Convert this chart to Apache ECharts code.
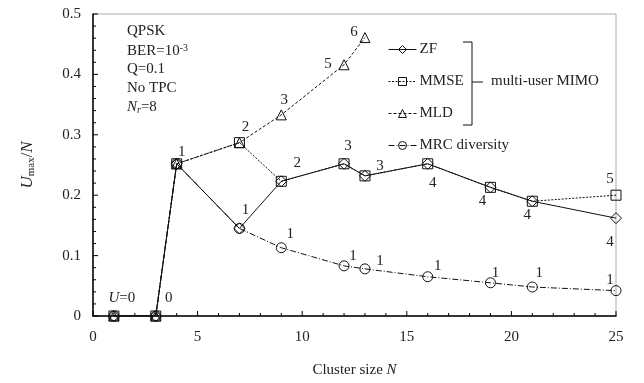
<!DOCTYPE html>
<html>
<head>
<meta charset="utf-8">
<script src="https://cdn.jsdelivr.net/npm/echarts@6/dist/echarts.min.js"></script>
<style>
  html, body { margin: 0; padding: 0; background: #fff; }
  #chart { width: 644px; height: 383px; }
</style>
</head>
<body>
<div id="chart"></div>
<script>
// cluster sizes and U_max/N
const clusterN = [1, 3, 4, 7, 9, 12, 13, 16, 19, 21, 25];
const zfVals   = [0, 0, 0.252, 0.145, 0.223, 0.252, 0.232, 0.252, 0.213, 0.19, 0.162];
const mmseVals = [0, 0, 0.252, 0.287, 0.223, 0.252, 0.232, 0.252, 0.213, 0.19, 0.2];
const mldN     = [1, 3, 4, 7, 9, 12, 13];
const mldVals  = [0, 0, 0.252, 0.287, 0.333, 0.416, 0.461];
const mrcVals  = [0, 0, 0.252, 0.145, 0.113, 0.083, 0.078, 0.065, 0.055, 0.048, 0.042];

// number of users U at each point
const zfLabels   = ['U=0', '0', '1', '1', '2', '3', '3', '4', '4', '4', '4'];
const mmseLabels = ['', '', '', '', '', '', '', '', '', '', '5'];
const mldLabels  = ['', '', '', '2', '3', '5', '6'];
const mrcLabels  = ['', '', '', '', '1', '1', '1', '1', '1', '1', '1'];

const xTicks = [0, 5, 10, 15, 20, 25];
const yTicks = [0, 0.1, 0.2, 0.3, 0.4, 0.5];
// tick mark positions (major + minor)
const xTickMarks = [0, 1, 2, 3, 4, 5, 6, 7, 8, 9, 10, 11, 12, 13, 14, 15, 16, 17, 18, 19, 20, 21, 22, 23, 24, 25];
const yTickMarks = [0, 0.02, 0.04, 0.06, 0.08, 0.1, 0.12, 0.14, 0.16, 0.18, 0.2, 0.22, 0.24, 0.26, 0.28,
                    0.3, 0.32, 0.34, 0.36, 0.38, 0.4, 0.42, 0.44, 0.46, 0.48, 0.5];

// label offsets (px) relative to the marker
const zfOff   = [[8,-18],[13,-18],[5,-12],[6,-18],[16,-18],[4,-18],[15,-10],[5,19],[-8,14],[-5,14],[-6,24]];
const mmseOff = [[0,0],[0,0],[0,0],[0,0],[0,0],[0,0],[0,0],[0,0],[0,0],[0,0],[-6,-16]];
const mldOff  = [[0,0],[0,0],[0,0],[6,-16],[3,-15],[-16,-1],[-11,-5]];
const mrcOff  = [[0,0],[0,0],[0,0],[0,0],[9,-14],[9,-10],[15,-8],[10,-11],[5,-10],[7,-14],[-6,-11]];

const FONT = '"Liberation Serif", "DejaVu Serif", serif';

function buildData(xs, ys, labels, offs) {
    return xs.map(function (x, i) {
        const item = { value: [x, ys[i]] };
        if (labels[i]) {
            item.label = {
                show: true,
                position: 'inside',
                offset: offs[i],
                formatter: labels[i] === 'U=0' ? '{i|U}=0' : labels[i]
            };
        }
        return item;
    });
}

const labelBase = {
    show: false,
    color: '#222',
    fontFamily: FONT,
    fontSize: 15,
    rich: {
        i: { fontFamily: FONT, fontSize: 15, fontStyle: 'italic', color: '#222' }
    }
};

function lineSeries(name, symbol, dash, data, z) {
    return {
        name: name,
        type: 'line',
        data: data,
        symbol: symbol,
        symbolSize: symbol === 'diamond' ? 11 : 10,
        z: z,
        itemStyle: { color: 'rgba(255,255,255,0)', borderColor: '#111', borderWidth: 1 },
        lineStyle: { color: '#111', width: 1, type: dash },
        label: labelBase,
        emphasis: { disabled: true },
        animation: false
    };
}

// inward tick marks, placed through the axis scales
function tickSeries(values, isX) {
    return {
        type: 'custom',
        silent: true,
        clip: false,
        z: 1,
        animation: false,
        data: values.map(function (v) { return isX ? [v, 0] : [0, v]; }),
        renderItem: function (params, api) {
            const pt = api.coord([api.value(0), api.value(1)]);
            const v = isX ? api.value(0) : api.value(1);
            const major = isX ? xTicks.indexOf(v) >= 0
                              : yTicks.some(function (t) { return Math.abs(t - v) < 1e-9; });
            const len = major ? 5 : 3;
            return {
                type: 'line',
                shape: isX ? { x1: pt[0], y1: pt[1], x2: pt[0], y2: pt[1] - len }
                           : { x1: pt[0], y1: pt[1], x2: pt[0] + len, y2: pt[1] },
                style: { stroke: '#000', lineWidth: 1 }
            };
        }
    };
}

const option = {
    backgroundColor: '#fff',
    animation: false,
    textStyle: { fontFamily: FONT },
    grid: {
        left: 93, right: 28, top: 14, bottom: 67,
        show: true, borderColor: '#aaa', borderWidth: 1,
        backgroundColor: 'rgba(0,0,0,0)'
    },
    legend: {
        orient: 'vertical',
        left: 383,
        top: 37,
        itemWidth: 28,
        itemHeight: 10,
        itemGap: 17,
        data: ['ZF', 'MMSE', 'MLD', 'MRC diversity'],
        lineStyle: { width: 1 },
        itemStyle: { borderWidth: 1 },
        textStyle: { fontFamily: FONT, fontSize: 15, color: '#222', padding: [0, 0, 0, -2] }
    },
    xAxis: {
        type: 'value',
        min: 0, max: 25, interval: 5,
        name: 'Cluster size {i|N}',
        nameLocation: 'middle',
        nameGap: 47,
        nameTextStyle: {
            fontFamily: FONT, fontSize: 15, color: '#222',
            rich: { i: { fontFamily: FONT, fontSize: 15, fontStyle: 'italic', color: '#222' } }
        },
        axisLine: { show: true, lineStyle: { color: '#000', width: 1.5 } },
        axisTick: { show: false },
        axisLabel: {
            fontFamily: FONT, fontSize: 15, color: '#222', margin: 14,
            formatter: function (v) { return xTicks.indexOf(v) >= 0 ? String(v) : ''; }
        },
        splitLine: { show: false }
    },
    yAxis: {
        type: 'value',
        min: 0, max: 0.5, interval: 0.1,
        name: '{i|U}{s|max}{t|/}{i|N}',
        nameLocation: 'middle',
        nameGap: 56,
        nameRotate: 90,
        nameTextStyle: {
            fontFamily: FONT, fontSize: 16, color: '#222',
            rich: {
                i: { fontFamily: FONT, fontSize: 17, fontStyle: 'italic', color: '#222' },
                s: { fontFamily: FONT, fontSize: 11, color: '#222', padding: [8, 0, 0, 0] },
                t: { fontFamily: FONT, fontSize: 16, color: '#222' }
            }
        },
        axisLine: { show: true, lineStyle: { color: '#000', width: 1.5 } },
        axisTick: { show: false },
        axisLabel: {
            fontFamily: FONT, fontSize: 15, color: '#222', margin: 12,
            formatter: function (v) {
                const hit = yTicks.find(function (t) { return Math.abs(t - v) < 1e-9; });
                return hit === undefined ? '' : String(hit);
            }
        },
        splitLine: { show: false }
    },
    graphic: [
        { type: 'text', left: 127, top: 24, style: { text: 'QPSK', font: '15px ' + FONT, fill: '#222' } },
        { type: 'text', left: 127, top: 43, style: {
            text: 'BER=10{sup|-3}', font: '15px ' + FONT, fill: '#222',
            rich: { sup: { fontSize: 10, fontFamily: FONT, verticalAlign: 'top', padding: [0, 0, 7, 0] } } } },
        { type: 'text', left: 127, top: 62, style: { text: 'Q=0.1', font: '15px ' + FONT, fill: '#222' } },
        { type: 'text', left: 127, top: 81, style: { text: 'No TPC', font: '15px ' + FONT, fill: '#222' } },
        { type: 'text', left: 127, top: 100, style: {
            text: '{i|N}{sub|r}=8', font: '15px ' + FONT, fill: '#222',
            rich: {
                i: { fontSize: 15, fontFamily: FONT, fontStyle: 'italic' },
                sub: { fontSize: 10, fontFamily: FONT, fontStyle: 'italic', padding: [6, 0, 0, 0] }
            } } },
        // bracket grouping the multi-user MIMO detectors
        { type: 'polyline', shape: { points: [[463, 42], [472, 42], [472, 125], [463, 125]] },
          style: { stroke: '#111', lineWidth: 1, fill: null } },
        { type: 'line', shape: { x1: 472, y1: 82, x2: 483, y2: 82 }, style: { stroke: '#111', lineWidth: 1 } },
        { type: 'text', left: 491, top: 74, style: { text: 'multi-user MIMO', font: '15px ' + FONT, fill: '#222' } }
    ],
    series: [
        tickSeries(xTickMarks, true),
        tickSeries(yTickMarks, false),
        lineSeries('MRC diversity', 'circle', [6, 2, 1, 2], buildData(clusterN, mrcVals, mrcLabels, mrcOff), 2),
        lineSeries('MLD', 'triangle', [3, 2], buildData(mldN, mldVals, mldLabels, mldOff), 3),
        lineSeries('MMSE', 'rect', [2, 1.5], buildData(clusterN, mmseVals, mmseLabels, mmseOff), 4),
        lineSeries('ZF', 'diamond', 'solid', buildData(clusterN, zfVals, zfLabels, zfOff), 5)
    ]
};

const chart = echarts.init(document.getElementById('chart'), null, { renderer: 'canvas' });
chart.setOption(option);
</script>
</body>
</html>
